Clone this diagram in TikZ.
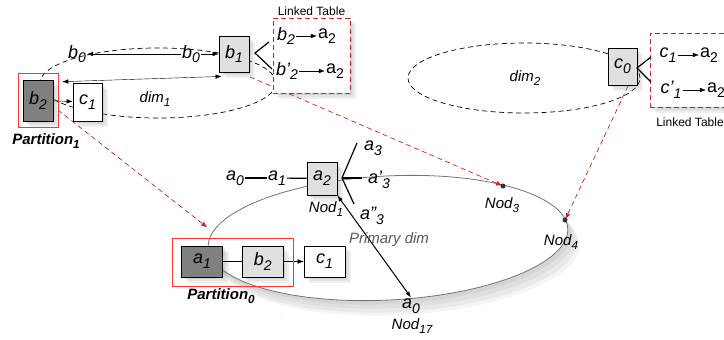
\documentclass[tikz,border=0pt]{standalone}
\usepackage{fontspec}
\setmainfont{Liberation Sans}
\usepackage{xcolor}
\usepackage{tikz}
\usetikzlibrary{arrows.meta,calc,positioning,shadows}

\definecolor{cellgray}{HTML}{E0E0E0}
\definecolor{darkfill}{HTML}{808080}
\definecolor{linkred}{HTML}{CC2222}
\makeatletter
\newcommand{\sbs}[2]{#1\raisebox{-.5ex}{\fontsize{\the\dimexpr\f@size pt*78/100\relax}{10pt}\selectfont #2}}
\makeatother

\begin{document}
\begin{tikzpicture}[x=1pt,y=-1pt,>={Latex[length=6pt,width=4.5pt]},
  every node/.style={font=\fontsize{18}{20}\selectfont\itshape,inner sep=1pt},
  softshadow/.style={drop shadow={opacity=.12,shadow xshift=2pt,shadow yshift=-2pt},drop shadow={opacity=.12,shadow xshift=4pt,shadow yshift=-4pt},drop shadow={opacity=.12,shadow xshift=6pt,shadow yshift=-6pt}},
  cell/.style={draw,line width=.8pt,fill=white,minimum width=30pt,minimum height=36pt,inner sep=0pt,softshadow},
  lightcell/.style={cell,fill=cellgray},
  darkcell/.style={cell,fill=darkfill},
  widecell/.style={minimum width=41pt,minimum height=31pt},
  linktable/.style={draw=linkred,dash pattern=on 5pt off 3pt,line width=.8pt,fill=white,inner sep=0pt,softshadow},
  parti/.style={draw=red!80,line width=.6pt,inner sep=0pt},
  dimline/.style={dash pattern=on 5pt off 3.5pt,line width=.7pt},
  linkarrow/.style={draw=linkred,dash pattern=on 5pt off 3.5pt,line width=.7pt,-{Latex[length=6pt,width=5pt]},shorten >=1pt},
  tabtitle/.style={font=\fontsize{12}{14}\selectfont},
  nodtag/.style={font=\fontsize{15}{17}\selectfont\itshape},
  parttag/.style={font=\fontsize{15}{17}\selectfont\bfseries\itshape}]
\clip (0,0) rectangle (724,340);

\draw[black!55,line width=.8pt,fill=white,drop shadow={opacity=.1,shadow xshift=3pt,shadow yshift=-4pt},drop shadow={opacity=.1,shadow xshift=6pt,shadow yshift=-8pt},drop shadow={opacity=.1,shadow xshift=9pt,shadow yshift=-12pt},drop shadow={opacity=.08,shadow xshift=12pt,shadow yshift=-15pt},rotate around={3:(388,238)}] (388,238) ellipse [x radius=180pt,y radius=62pt];
\draw[dimline] (158,83) ellipse [x radius=118pt,y radius=35pt];
\draw[dimline] (524,78) ellipse [x radius=116pt,y radius=35pt];

\coordinate (n3pt) at (503,186);
\coordinate (n4pt) at (565,220);
\coordinate (p0in) at (208,228);
\coordinate (lk1) at (58,110);
\coordinate (lk2) at (250,77);
\coordinate (lk3) at (628,86);
\draw[linkarrow] (lk1) -- (p0in);
\draw[linkarrow] (lk2) -- (n3pt);
\draw[linkarrow] (lk3) -- (n4pt);

\node[parti,minimum width=40pt,minimum height=54pt] (part1) at (38,100) {};
\node[darkcell,minimum height=41pt] (b2) at (38,100.5) {\sbs{b}{2}};
\node[cell,minimum width=29pt,minimum height=38pt] (c1) at (87.5,102) {\sbs{c}{1}};
\node[lightcell] (b1) at (234,54) {\sbs{b}{1}};
\node[parttag] (p1tag) at (46,141) {\sbs{Partition}{1}};
\node (b0l) at (77,54) {\sbs{b}{0}};
\node (b0r) at (191,54) {\sbs{b}{0}};
\node[nodtag] (dim1) at (155,99) {\sbs{dim}{1}};
\draw[->] (b0r) -- (b0l);
\draw[->] (b0r) -- (b1);
\draw[->] (b2) -- (c1);
\draw[<->] ($(b1.south west)+(3,4)$) -- ($(part1.north east)+(4,9)$);
\coordinate (bj) at (255,53);
\coordinate (bj1) at (269,42);
\coordinate (bj2) at (272,69);
\draw[line width=1.2pt] (bj1) -- (bj) -- (bj2);

\node[linktable,minimum width=77pt,minimum height=75pt] (lt1) at (311.5,55.5) {};
\node[tabtitle,above=1pt of lt1] (lt1tag) {Linked Table};
\node (lb2) at (286,36) {\sbs{b}{2}};
\node (la2) at (327,36) {\sbs{\upshape a}{2}};
\node (lb2p) at (287,71) {\sbs{b'}{2}};
\node (la2p) at (335,71) {\sbs{\upshape a}{2}};
\draw[->] (lb2) -- (la2);
\draw[->] (lb2p) -- (la2p);

\node[lightcell,minimum width=29pt,minimum height=37pt] (c0) at (622.5,66.5) {\sbs{c}{0}};
\node[nodtag] (dim2) at (525,78) {\sbs{dim}{2}};
\node[linktable,minimum width=88pt,minimum height=74pt] (lt2) at (694,70) {};
\node[tabtitle] (lt2tag) at (690,122) {Linked Table};
\node (lc1) at (668,55) {\sbs{c}{1}};
\node (la2c) at (709,55) {\sbs{\upshape a}{2}};
\node (lc1p) at (671,90) {\sbs{c'}{1}};
\node (la2cp) at (716,90) {\sbs{\upshape a}{2}};
\draw[->] (lc1) -- (la2c);
\draw[->] (lc1p) -- (la2cp);
\coordinate (cj) at (637,68);
\coordinate (cj1) at (651,57);
\coordinate (cj2) at (651,82);
\draw[line width=1.2pt] (cj1) -- (cj) -- (cj2);

\node[lightcell,minimum height=33pt] (a2) at (322,178.5) {\sbs{a}{2}};
\node (a0l) at (235,178) {\sbs{a}{0}};
\node (a1l) at (277,178) {\sbs{a}{1}};
\draw[line width=1.2pt] (a0l) -- (a1l);
\draw[line width=1.2pt] (a1l) -- (a2);
\node (a3) at (373,148) {\sbs{a}{3}};
\node (a3p) at (379,180) {\sbs{a'}{3}};
\node (a3pp) at (372,216) {\sbs{a''}{3}};
\coordinate (aj) at (342,178);
\coordinate (aj1) at (357,143);
\coordinate (aj2) at (362,178);
\coordinate (aj3) at (354,204);
\draw[line width=1.2pt] (aj1) -- (aj) -- (aj3);
\draw[line width=1.2pt] (aj) -- (aj2);
\node[nodtag] (nod1) at (326,209) {\sbs{Nod}{1}};
\node (a0b) at (411,306) {\sbs{a}{0}};
\node[nodtag] (nod17) at (412,326) {\sbs{Nod}{17}};
\draw[<->,line width=1pt] (a2.south east) -- (a0b.north);
\node[nodtag,text=black!65] (prim) at (389,240) {Primary dim};
\node[nodtag] (nod3) at (502,205) {\sbs{Nod}{3}};
\node[nodtag] (nod4) at (561,242) {\sbs{Nod}{4}};
\fill[black!80] (n3pt) circle (2.5pt);
\fill[black!80] (n4pt) circle (2.5pt);

\node[darkcell,widecell] (a1) at (202,261.5) {\sbs{a}{1}};
\node[lightcell,widecell,right=19pt of a1] (b2p) {\sbs{b}{2}};
\node[cell,widecell,right=20pt of b2p] (c1p) {\sbs{c}{1}};
\draw (a1) -- (b2p);
\draw[->] (b2p) -- (c1p);
\node[parti,minimum width=121pt,minimum height=48pt] (part0) at (232.5,262) {};
\node[parttag] (p0tag) at (221,296) {\sbs{Partition}{0}};
\node[font=\tiny] (dotmark) at (282,315) {.};
\end{tikzpicture}
\end{document}
